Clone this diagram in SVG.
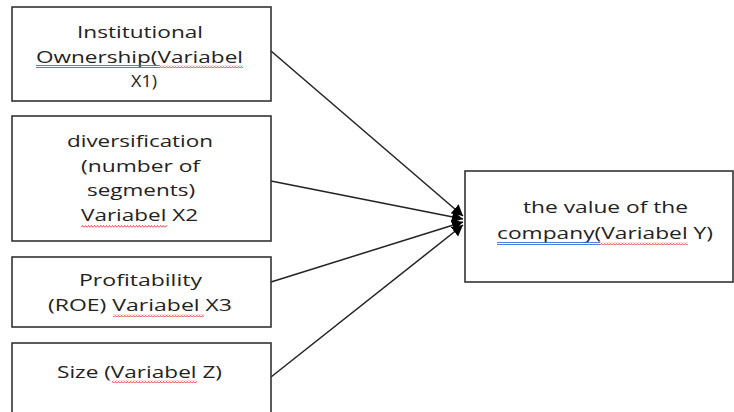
<svg xmlns="http://www.w3.org/2000/svg" width="734" height="412" viewBox="0 0 734 412">
<style>
.box{fill:#fff;stroke:#333;stroke-width:1.6}
.t{font-family:"Open Sans","Liberation Sans",sans-serif;font-size:16.5px;fill:#222}
.c{stroke:#222;stroke-width:1.5;fill:none}
.blu{stroke:#3a6fd8;stroke-width:0.9;fill:none}
</style>
<defs>
<marker id="ah" markerUnits="userSpaceOnUse" markerWidth="12" markerHeight="14" refX="11" refY="7" orient="auto">
<path d="M0,1 L11,7 L0,13 z" fill="#000"/>
</marker>
<pattern id="wave" width="3" height="3" patternUnits="userSpaceOnUse">
<path d="M0,2.5 L1.5,0.5 L3,2.5" stroke="#e02020" stroke-width="0.8" fill="none"/>
</pattern>
</defs>
<rect width="734" height="412" fill="#fff"/>
<g id="connectors">
<line class="c" x1="271" y1="51" x2="463" y2="216" marker-end="url(#ah)"/>
<line class="c" x1="271" y1="181" x2="463" y2="219" marker-end="url(#ah)"/>
<line class="c" x1="271" y1="282" x2="463" y2="222" marker-end="url(#ah)"/>
<line class="c" x1="271" y1="377" x2="463" y2="225" marker-end="url(#ah)"/>
</g>
<g id="node-x1">
<rect class="box" x="12" y="7" width="259" height="94"/>
<text class="t" x="77" y="38" textLength="126" lengthAdjust="spacingAndGlyphs">Institutional</text>
<text class="t" x="36" y="63" textLength="207" lengthAdjust="spacingAndGlyphs">Ownership(Variabel</text>
<text class="t" x="131" y="87" textLength="26" lengthAdjust="spacingAndGlyphs">X1)</text>
<path class="blu" d="M36,65.5 H160 M36,67.5 H160"/>
<rect x="160" y="65" width="83" height="3" fill="url(#wave)"/>
</g>
<g id="node-x2">
<rect class="box" x="12" y="116" width="259" height="125"/>
<text class="t" x="67" y="147" textLength="146" lengthAdjust="spacingAndGlyphs">diversification</text>
<text class="t" x="81" y="172" textLength="119" lengthAdjust="spacingAndGlyphs">(number of</text>
<text class="t" x="87" y="196" textLength="108" lengthAdjust="spacingAndGlyphs">segments)</text>
<text class="t" x="81" y="221" textLength="117" lengthAdjust="spacingAndGlyphs">Variabel X2</text>
<rect x="81" y="225" width="86" height="3" fill="url(#wave)"/>
</g>
<g id="node-x3">
<rect class="box" x="12" y="257" width="259" height="70"/>
<text class="t" x="79" y="286" textLength="123" lengthAdjust="spacingAndGlyphs">Profitability</text>
<text class="t" x="48" y="311" textLength="184" lengthAdjust="spacingAndGlyphs">(ROE) Variabel X3</text>
<rect x="113" y="314" width="91" height="3" fill="url(#wave)"/>
</g>
<g id="node-z">
<rect class="box" x="12" y="343" width="259" height="80"/>
<text class="t" x="57" y="378" textLength="165" lengthAdjust="spacingAndGlyphs">Size (Variabel Z)</text>
<rect x="112" y="380" width="85" height="3" fill="url(#wave)"/>
</g>
<g id="node-y">
<rect class="box" x="465" y="171" width="268" height="111"/>
<text class="t" x="523" y="213" textLength="165" lengthAdjust="spacingAndGlyphs">the value of the</text>
<text class="t" x="497" y="239" textLength="216" lengthAdjust="spacingAndGlyphs">company(Variabel Y)</text>
<path class="blu" d="M497,242.5 H600 M497,244.5 H600"/>
<rect x="600" y="242" width="88" height="3" fill="url(#wave)"/>
</g>
</svg>
